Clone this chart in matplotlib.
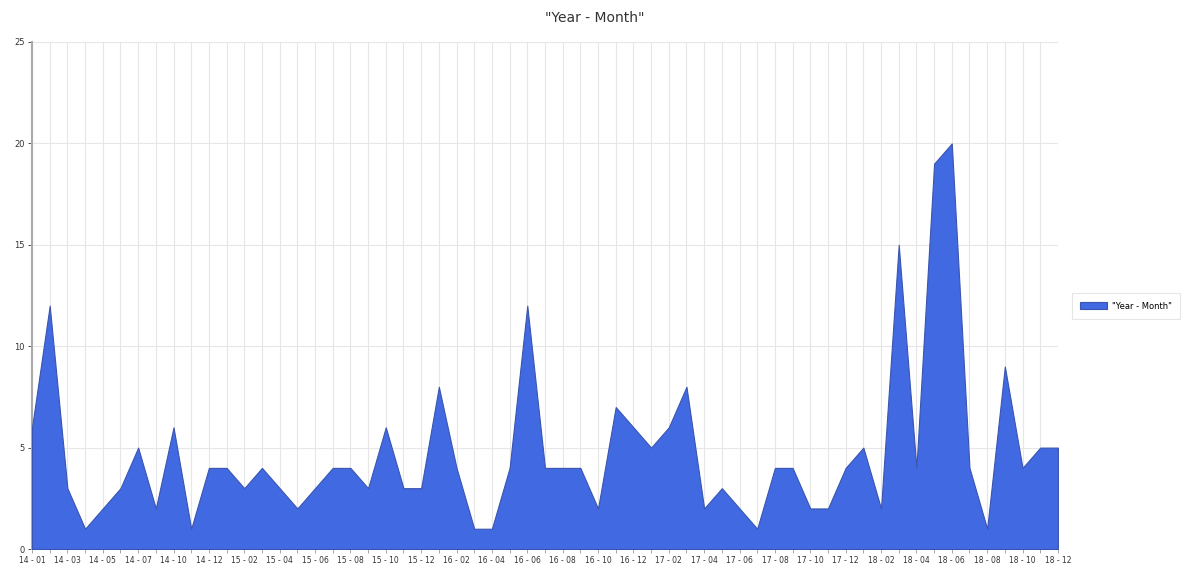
import matplotlib
matplotlib.use("Agg")
import matplotlib.pyplot as plt
import numpy as np

title = '"Year - Month"'
series_name = '"Year - Month"'

months = (["14 - 01", "14 - 02", "14 - 03", "14 - 04", "14 - 05", "14 - 06", "14 - 07",
           "14 - 08", "14 - 10", "14 - 11", "14 - 12"]
          + [f"{y} - {m:02d}" for y in (15, 16, 17, 18) for m in range(1, 13)])
values = [6, 12, 3, 1, 2, 3, 5, 2, 6, 1,
          4, 4, 3, 4, 3, 2, 3, 4, 4, 3,
          6, 3, 3, 8, 4, 1, 1, 4, 12, 4,
          4, 4, 2, 7, 6, 5, 6, 8, 2, 3,
          2, 1, 4, 4, 2, 2, 4, 5, 2, 15,
          4, 19, 20, 4, 1, 9, 4, 5, 5]
y_ticks = [0, 5, 10, 15, 20, 25]

fig = plt.figure(figsize=(11.9, 5.72), dpi=100)
ax = fig.add_axes([0.0269, 0.0402, 0.889 - 0.0269, 0.9266 - 0.0402])

x = np.arange(len(months))
ax.fill_between(x, values, 0, color="#4169E1", edgecolor="#3a55b0", linewidth=0.8,
                label=series_name, zorder=3)

ax.set_xlim(0, len(months) - 1)
ax.set_ylim(0, 25)
ax.set_yticks(y_ticks)
ax.set_xticks(x)
ax.set_xticklabels([m if i % 2 == 0 else "" for i, m in enumerate(months)],
                   fontsize=5.5, color="#333333")
ax.tick_params(axis="y", labelsize=6, colors="#333333", length=3, width=0.6, pad=2)
ax.tick_params(axis="x", length=3, width=0.6, color="#999999", pad=2)
ax.grid(True, color="#e6e6e6", linewidth=0.8, zorder=0)
for s in ["top", "right"]:
    ax.spines[s].set_visible(False)
ax.spines["left"].set_color("#aaaaaa")
ax.spines["left"].set_linewidth(1.5)
ax.spines["bottom"].set_color("#cccccc")

fig.suptitle(title, x=0.5, y=0.969, va="center", fontsize=10, color="#333333")

leg = fig.legend(loc="center left", bbox_to_anchor=(0.897, 0.465), fontsize=6,
                 frameon=True, handlelength=3.2, handleheight=1.0, borderpad=1.0,
                 handletextpad=0.6, fancybox=False)
leg.get_frame().set_edgecolor("#e0e0e0")
leg.get_frame().set_linewidth(0.8)

fig.savefig("out.png", dpi=100)
